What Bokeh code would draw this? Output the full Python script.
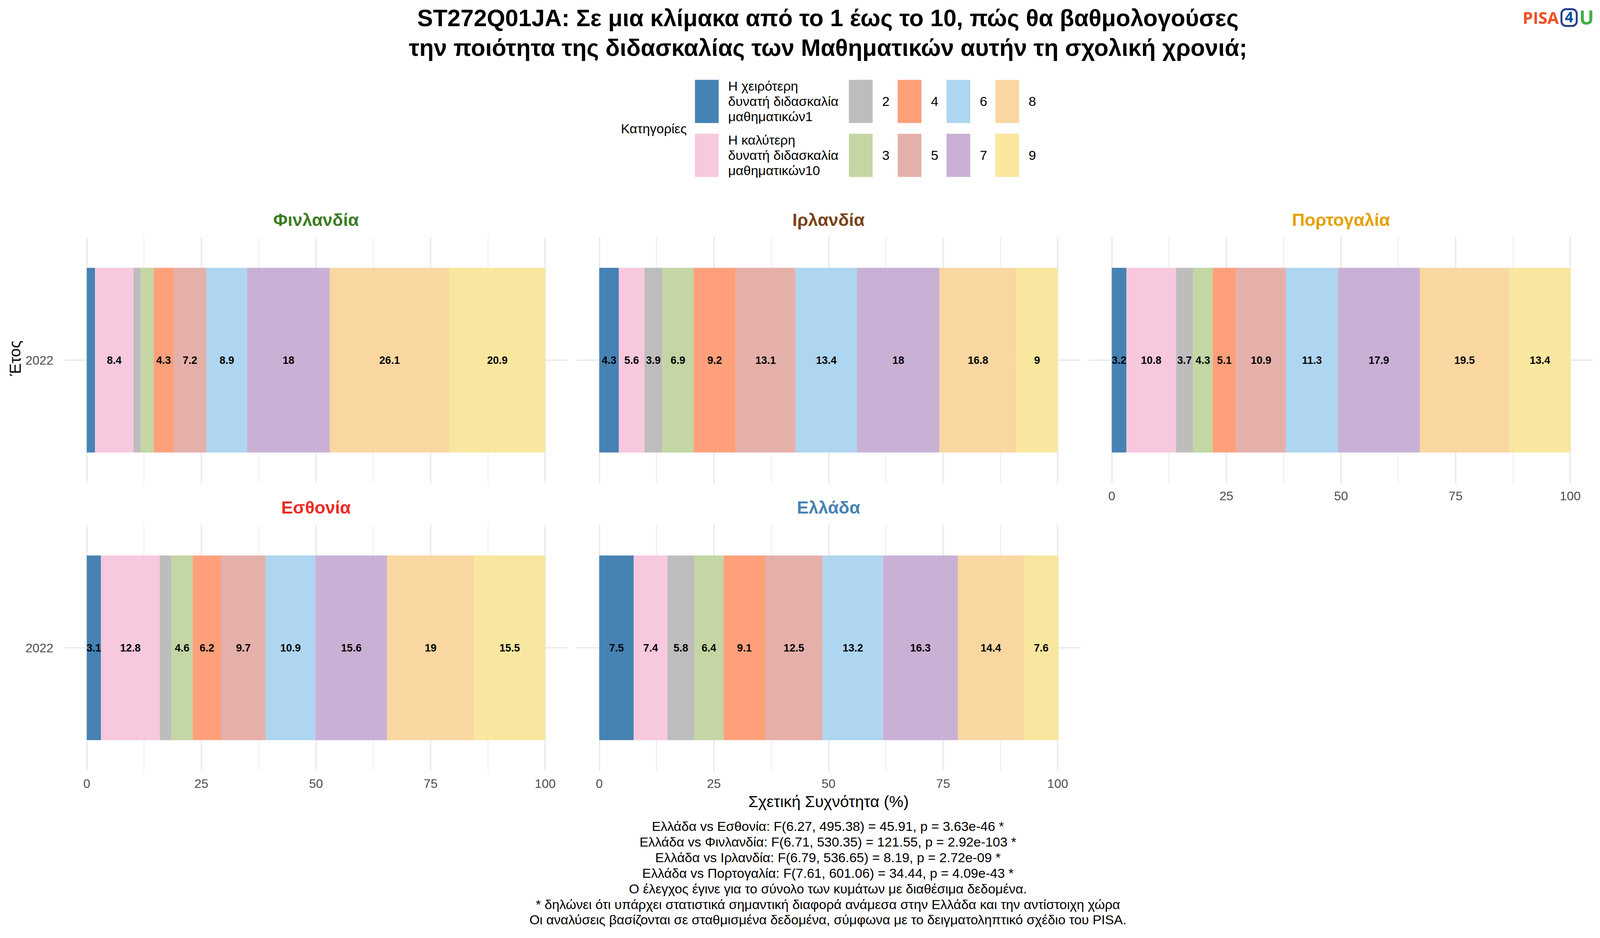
import numpy as np
from bokeh.core.properties import value
from bokeh.embed import file_html
from bokeh.resources import INLINE
from bokeh.layouts import column, row
from bokeh.models import ColumnDataSource, FactorRange, FixedTicker, Legend, LegendItem, Range1d
from bokeh.plotting import figure

YEAR = "2022"
TITLE_LINES = ["ST272Q01JA: Σε μια κλίμακα από το 1 έως το 10, πώς θα βαθμολογούσες",
               "την ποιότητα της διδασκαλίας των Μαθηματικών αυτήν τη σχολική χρονιά;"]
CATEGORIES = ["Η χειρότερη\nδυνατή διδασκαλία\u00a0\u00a0\nμαθηματικών1", "Η καλύτερη\nδυνατή διδασκαλία\u00a0\u00a0\nμαθηματικών10",
              "2", "3", "4", "5", "6", "7", "8", "9"]
COLORS = ["#4682B4", "#F7C8DE", "#BDBDBD", "#C3D6A4", "#FFA07A", "#E6B0AA", "#AED6F1", "#C9B1D5", "#FAD7A0", "#F9E79F"]
FINLAND = [1.8, 8.4, 1.6, 2.8, 4.3, 7.2, 8.9, 18.0, 26.1, 20.9]
IRELAND = [4.26, 5.6, 3.86, 6.86, 9.16, 13.08, 13.4, 18.0, 16.8, 8.96]
PORTUGAL = [3.2, 10.8, 3.7, 4.3, 5.1, 10.9, 11.3, 17.9, 19.5, 13.4]
ESTONIA = [3.1, 12.8, 2.6, 4.6, 6.2, 9.7, 10.9, 15.6, 19.0, 15.5]
GREECE = [7.5, 7.4, 5.8, 6.4, 9.1, 12.5, 13.2, 16.3, 14.4, 7.6]
X_TICKS = [0, 25, 50, 75, 100]
X_MINOR = [12.5, 37.5, 62.5, 87.5]
LABEL_MIN = 3.0
LEGEND_TITLE = "Κατηγορίες"
Y_TITLE = "Έτος"
X_TITLE = "Σχετική Συχνότητα (%)"
FOOTER_LINES = [
    "Ελλάδα vs Εσθονία: F(6.27, 495.38) = 45.91, p = 3.63e-46 *",
    "Ελλάδα vs Φινλανδία: F(6.71, 530.35) = 121.55, p = 2.92e-103 *",
    "Ελλάδα vs Ιρλανδία: F(6.79, 536.65) = 8.19, p = 2.72e-09 *",
    "Ελλάδα vs Πορτογαλία: F(7.61, 601.06) = 34.44, p = 4.09e-43 *",
    "Ο έλεγχος έγινε για το σύνολο των κυμάτων με διαθέσιμα δεδομένα.",
    "* δηλώνει ότι υπάρχει στατιστικά σημαντική διαφορά ανάμεσα στην Ελλάδα και την αντίστοιχη χώρα",
    "Οι αναλύσεις βασίζονται σε σταθμισμένα δεδομένα, σύμφωνα με το δειγματοληπτικό σχέδιο του PISA.",
]
FONT = "Liberation Sans"
GRID = "#EBEBEB"
S = 4096 / 4500
FRAME_W, FRAME_H = 1291, 630


def X(t):
    return t * S


def panel(name, values, color, left, top, bottom, show_x, show_y):
    p = figure(width=left + FRAME_W, height=top + FRAME_H + bottom, frame_width=FRAME_W, frame_height=FRAME_H,
               x_range=Range1d(-5, 105),
               y_range=FactorRange(factors=[YEAR], factor_padding=0, range_padding=0.2, range_padding_units="percent"),
               output_backend="svg", toolbar_location=None,
               min_border_left=left, min_border_right=0, min_border_top=top, min_border_bottom=bottom,
               outline_line_color=None, background_fill_color="white", border_fill_color="white")
    v = np.array(values, dtype=float)
    right = np.cumsum(v)
    lft = right - v
    src = ColumnDataSource(dict(y=[YEAR] * len(v), left=lft, right=right, color=COLORS))
    p.hbar(y="y", left="left", right="right", height=0.9, fill_color="color", line_color=None, source=src)
    keep = v >= LABEL_MIN
    lab = ColumnDataSource(dict(x=((lft + right) / 2)[keep], y=[YEAR] * int(keep.sum()),
                                t=[f"{round(a, 1):g}" for a in v[keep]]))
    p.text(x="x", y="y", text="t", source=lab, text_font=value(FONT), text_font_style="bold", text_font_size="27px",
           text_align="center", text_baseline="middle", text_color="black")

    p.title.text = name
    p.title.align = "center"
    p.title.text_color = color
    p.title.text_font = FONT
    p.title.text_font_style = "bold"
    p.title.text_font_size = "45px"
    p.title.standoff = 37

    p.xaxis.ticker = FixedTicker(ticks=X_TICKS, minor_ticks=X_MINOR)
    p.xgrid.ticker = FixedTicker(ticks=X_TICKS, minor_ticks=X_MINOR)
    p.xgrid.grid_line_color = GRID
    p.xgrid.grid_line_width = 4
    p.xgrid.minor_grid_line_color = GRID
    p.xgrid.minor_grid_line_width = 2
    p.ygrid.grid_line_color = GRID
    p.ygrid.grid_line_width = 4
    for ax in (p.xaxis[0], p.yaxis[0]):
        ax.axis_line_color = None
        ax.major_tick_line_color = None
        ax.minor_tick_line_color = None
        ax.major_label_text_color = "#4D4D4D"
        ax.major_label_text_font = FONT
        ax.major_label_text_font_size = "32px"
    p.xaxis.major_label_standoff = 15
    p.yaxis.major_label_standoff = 21
    p.xaxis.visible = show_x
    p.yaxis.visible = show_y
    return p


W_LEFT = 62
TOP = 96
LB1 = 95
LB2 = 21
BOT1 = 10
BOT2 = 103
HEAD_H = 510
p1 = panel("Φινλανδία", FINLAND, "#3B7D23", LB1, TOP, BOT1, False, True)
p4 = panel("Εσθονία", ESTONIA, "#EE2A24", LB1, TOP, BOT2, True, True)
p2 = panel("Ιρλανδία", IRELAND, "#7B4316", LB2, TOP, BOT1, False, False)
p5 = panel("Ελλάδα", GREECE, "#4682B4", LB2, TOP, BOT2, True, False)
p3 = panel("Πορτογαλία", PORTUGAL, "#E69F00", LB2, TOP, BOT1 + TOP + FRAME_H + BOT2, True, False)

p5.xaxis.axis_label = X_TITLE
p5.xaxis.axis_label_text_font = FONT
p5.xaxis.axis_label_text_font_style = "normal"
p5.xaxis.axis_label_text_font_size = "41px"
p5.xaxis.axis_label_text_color = "black"
p5.xaxis.axis_label_standoff = 9


def canvas(x0, x1, y0, y1):
    c = figure(width=x1 - x0, height=y1 - y0, x_range=Range1d(x0, x1), y_range=Range1d(y1, y0),
               output_backend="svg", toolbar_location=None, min_border=0, outline_line_color=None,
               x_axis_location=None, y_axis_location=None)
    c.grid.visible = False
    return c


PAGE_R = 4090
# header: title, legend, logo
head = canvas(0, PAGE_R, 0, HEAD_H)
head.text(x=[X(2328), X(2328)], y=[45, 121], text=TITLE_LINES, text_font=value(FONT), text_font_style="bold",
          text_font_size="60.5px", text_align="center", text_baseline="middle", text_color="black")
items = []
for cat, col in zip(CATEGORIES, COLORS):
    r = head.rect(x=[-500], y=[-500], width=1, height=1, fill_color=col, line_color=None)
    items.append(LegendItem(label=cat, renderers=[r]))
leg = Legend(items=items, orientation="vertical", nrows=2, ncols=5, glyph_width=76, glyph_height=138,
             label_standoff=17, label_width=32, spacing=0, margin=0, padding=0, border_line_color=None,
             background_fill_alpha=0, label_text_font=FONT, label_text_font_size="34px", label_text_color="black",
             location=(1771, HEAD_H - 466))
head.add_layout(leg)
head.text(x=[X(1931)], y=[328], text=[LEGEND_TITLE], text_font=value(FONT), text_font_size="34px",
          text_align="right", text_baseline="middle", text_color="black")
# logo
head.text(x=[X(4282)], y=[44], text=["PISA"], text_font=value("Open Sans"), text_font_style="bold", text_font_size="42px",
          text_align="left", text_baseline="middle", text_color="#F04E23")
head.quad(left=[X(4391)], right=[X(4434)], top=[23], bottom=[66], fill_color=None, line_color="#27408B", line_width=5,
          border_radius=12)
head.text(x=[X(4412.5)], y=[43], text=["4"], text_font=value("Open Sans"), text_font_style="bold", text_font_size="38px",
          text_align="center", text_baseline="middle", text_color="#00529B")
head.text(x=[X(4441)], y=[43], text=["U"], text_font=value("Open Sans"), text_font_style="bold", text_font_size="50px",
          text_align="left", text_baseline="middle", text_color="#3FAE49")

# y title strip
BODY_END = HEAD_H + 2 * (TOP + FRAME_H) + BOT1 + BOT2
strip = canvas(0, W_LEFT, HEAD_H, BODY_END)
strip.text(x=[38], y=[1280], text=[Y_TITLE], angle=[np.pi / 2], text_font=value(FONT), text_font_size="41px",
           text_align="center", text_baseline="middle", text_color="black")

# footer
foot = canvas(0, PAGE_R, BODY_END, 2392)
foot.text(x=[X(2328)] * len(FOOTER_LINES), y=[2112, 2152, 2192, 2232, 2272, 2312, 2351], text=FOOTER_LINES,
          text_font=value(FONT), text_font_size="34px", text_align="center", text_baseline="middle", text_color="black")

body = row(strip, column(p1, p4), column(p2, p5), p3)
page = column(head, body, foot)
open("out.html", "w").write(file_html(page, INLINE))
